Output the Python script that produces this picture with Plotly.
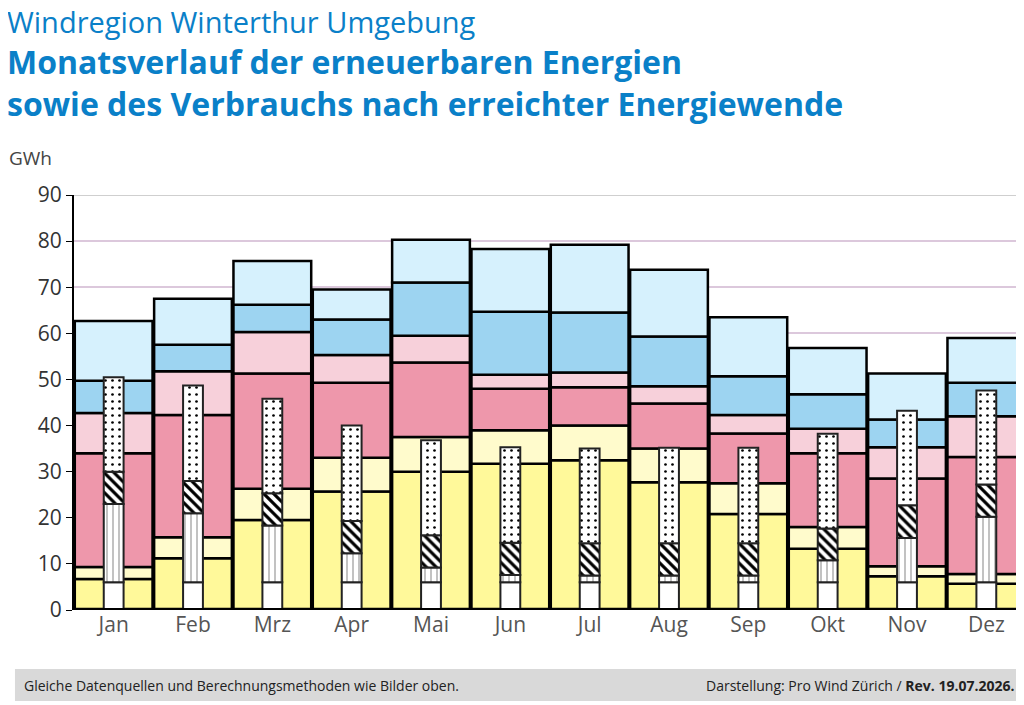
import numpy as np
import plotly.graph_objects as go

months = ["Jan", "Feb", "Mrz", "Apr", "Mai", "Jun", "Jul", "Aug", "Sep", "Okt", "Nov", "Dez"]

# Produktion, kumulierte Obergrenzen je Schicht (GWh)
top_yellow = [6.7, 11.2, 19.5, 25.7, 30.0, 31.7, 32.5, 27.7, 20.8, 13.3, 7.3, 5.7]
top_lightyellow = [9.3, 15.8, 26.3, 33.0, 37.5, 39.0, 40.0, 35.0, 27.5, 18.0, 9.5, 7.8]
top_pink = [34.0, 42.3, 51.3, 49.3, 53.7, 48.0, 48.3, 44.8, 38.3, 34.0, 28.5, 33.2]
top_lightpink = [42.7, 51.8, 60.3, 55.3, 59.5, 51.0, 51.5, 48.5, 42.3, 39.3, 35.3, 42.0]
top_blue = [49.7, 57.5, 66.2, 63.0, 71.0, 64.7, 64.5, 59.3, 50.7, 46.8, 41.3, 49.3]
top_lightblue = [62.7, 67.5, 75.7, 69.5, 80.3, 78.3, 79.2, 73.8, 63.5, 56.8, 51.3, 59.0]

# Verbrauch, kumulierte Obergrenzen
use_base = [6.0] * 12
use_heat = [23.0, 21.0, 18.3, 12.3, 9.2, 7.6, 7.5, 7.5, 7.5, 10.8, 15.6, 20.2]
use_hatch = [30.0, 28.0, 25.3, 19.3, 16.2, 14.6, 14.5, 14.5, 14.5, 17.7, 22.7, 27.2]
use_dots = [50.5, 48.7, 45.8, 40.0, 36.8, 35.3, 35.0, 35.2, 35.2, 38.2, 43.2, 47.6]

fig = go.Figure()

prod_layers = [
    (top_yellow, "#fff99a"),
    (top_lightyellow, "#fffbcc"),
    (top_pink, "#ee97ab"),
    (top_lightpink, "#f7d0da"),
    (top_blue, "#9dd4f1"),
    (top_lightblue, "#d6f1fd"),
]
prev = np.zeros(12)
for tops, col in prod_layers:
    tops = np.array(tops)
    fig.add_trace(go.Bar(x=months, y=tops - prev, base=prev, width=0.98,
                         marker=dict(color=col, line=dict(color="black", width=2.5)),
                         showlegend=False))
    prev = tops

# schwarzer Bodenstreifen
fig.add_trace(go.Bar(x=months, y=[0.5] * 12, base=[0] * 12, width=0.98,
                     marker=dict(color="black", line=dict(width=0)), showlegend=False))

use_layers = [
    (use_base, "", 7, 0.1),
    (use_heat, "|", 6, 0.08),
    (use_hatch, "\\", 7, 0.45),
    (use_dots, ".", 7, 0.12),
]
prev = np.zeros(12)
for tops, shape, sz, sol in use_layers:
    tops = np.array(tops)
    fig.add_trace(go.Bar(x=months, y=tops - prev, base=prev, width=0.25,
                         marker=dict(color="white", line=dict(color="#222", width=2),
                                     pattern=dict(shape=shape, fgcolor="black", bgcolor="white",
                                                  fgopacity=1, size=sz, solidity=sol)),
                         showlegend=False))
    prev = tops

title_font = dict(size=32, color="#0a80c8", family="Open Sans")
fig.update_layout(
    width=1024, height=705,
    barmode="overlay",
    plot_bgcolor="white", paper_bgcolor="white",
    margin=dict(l=66, r=6, t=187, b=103),
    font=dict(family="Open Sans", color="#444"),
    xaxis=dict(showline=False, ticks="", tickfont=dict(size=21, color="#555")),
    yaxis=dict(range=[0, 90], dtick=10, showgrid=True, gridcolor="#dcc8dc", gridwidth=2,
               showline=True, linecolor="black", linewidth=2, ticks="outside",
               ticklen=6, tickcolor="black", tickfont=dict(size=21, color="#333"), zeroline=False),
    shapes=[
        dict(type="line", xref="paper", yref="y", x0=0, x1=1, y0=90, y1=90,
             line=dict(color="#cfcfcf", width=2)),
        dict(type="line", xref="paper", yref="y", x0=0, x1=1, y0=0, y1=0,
             line=dict(color="black", width=4)),
        dict(type="rect", xref="paper", yref="paper", x0=-0.062, x1=1.0, y0=-0.219, y1=-0.142,
             fillcolor="#d9d9d9", line=dict(width=0)),
    ],
    annotations=[
        dict(text="Windregion Winterthur Umgebung", xref="paper", yref="paper", x=-0.073, y=1.0,
             xanchor="left", yanchor="middle", yshift=174, showarrow=False,
             font=dict(size=29, color="#0a80c8", family="Open Sans")),
        dict(text="<b>Monatsverlauf der erneuerbaren Energien</b>", xref="paper", yref="paper",
             x=-0.073, y=1.0, xanchor="left", yanchor="middle", yshift=134, showarrow=False,
             font=title_font),
        dict(text="<b>sowie des Verbrauchs nach erreichter Energiewende</b>", xref="paper",
             yref="paper", x=-0.073, y=1.0, xanchor="left", yanchor="middle", yshift=92,
             showarrow=False, font=title_font),
        dict(text="GWh", xref="paper", yref="paper", x=-0.07, y=1.0, xanchor="left",
             yanchor="middle", yshift=37, showarrow=False, font=dict(size=19, color="#444")),
        dict(text="Gleiche Datenquellen und Berechnungsmethoden wie Bilder oben.", xref="paper",
             yref="paper", x=-0.055, y=-0.181, xanchor="left", yanchor="middle", showarrow=False,
             font=dict(size=14, color="#222")),
        dict(text="Darstellung: Pro Wind Zürich / <b>Rev. 19.07.2026.</b>", xref="paper",
             yref="paper", x=0.99, y=-0.181, xanchor="right", yanchor="middle", showarrow=False,
             font=dict(size=14, color="#222")),
    ],
)

fig.write_html("out.html")
